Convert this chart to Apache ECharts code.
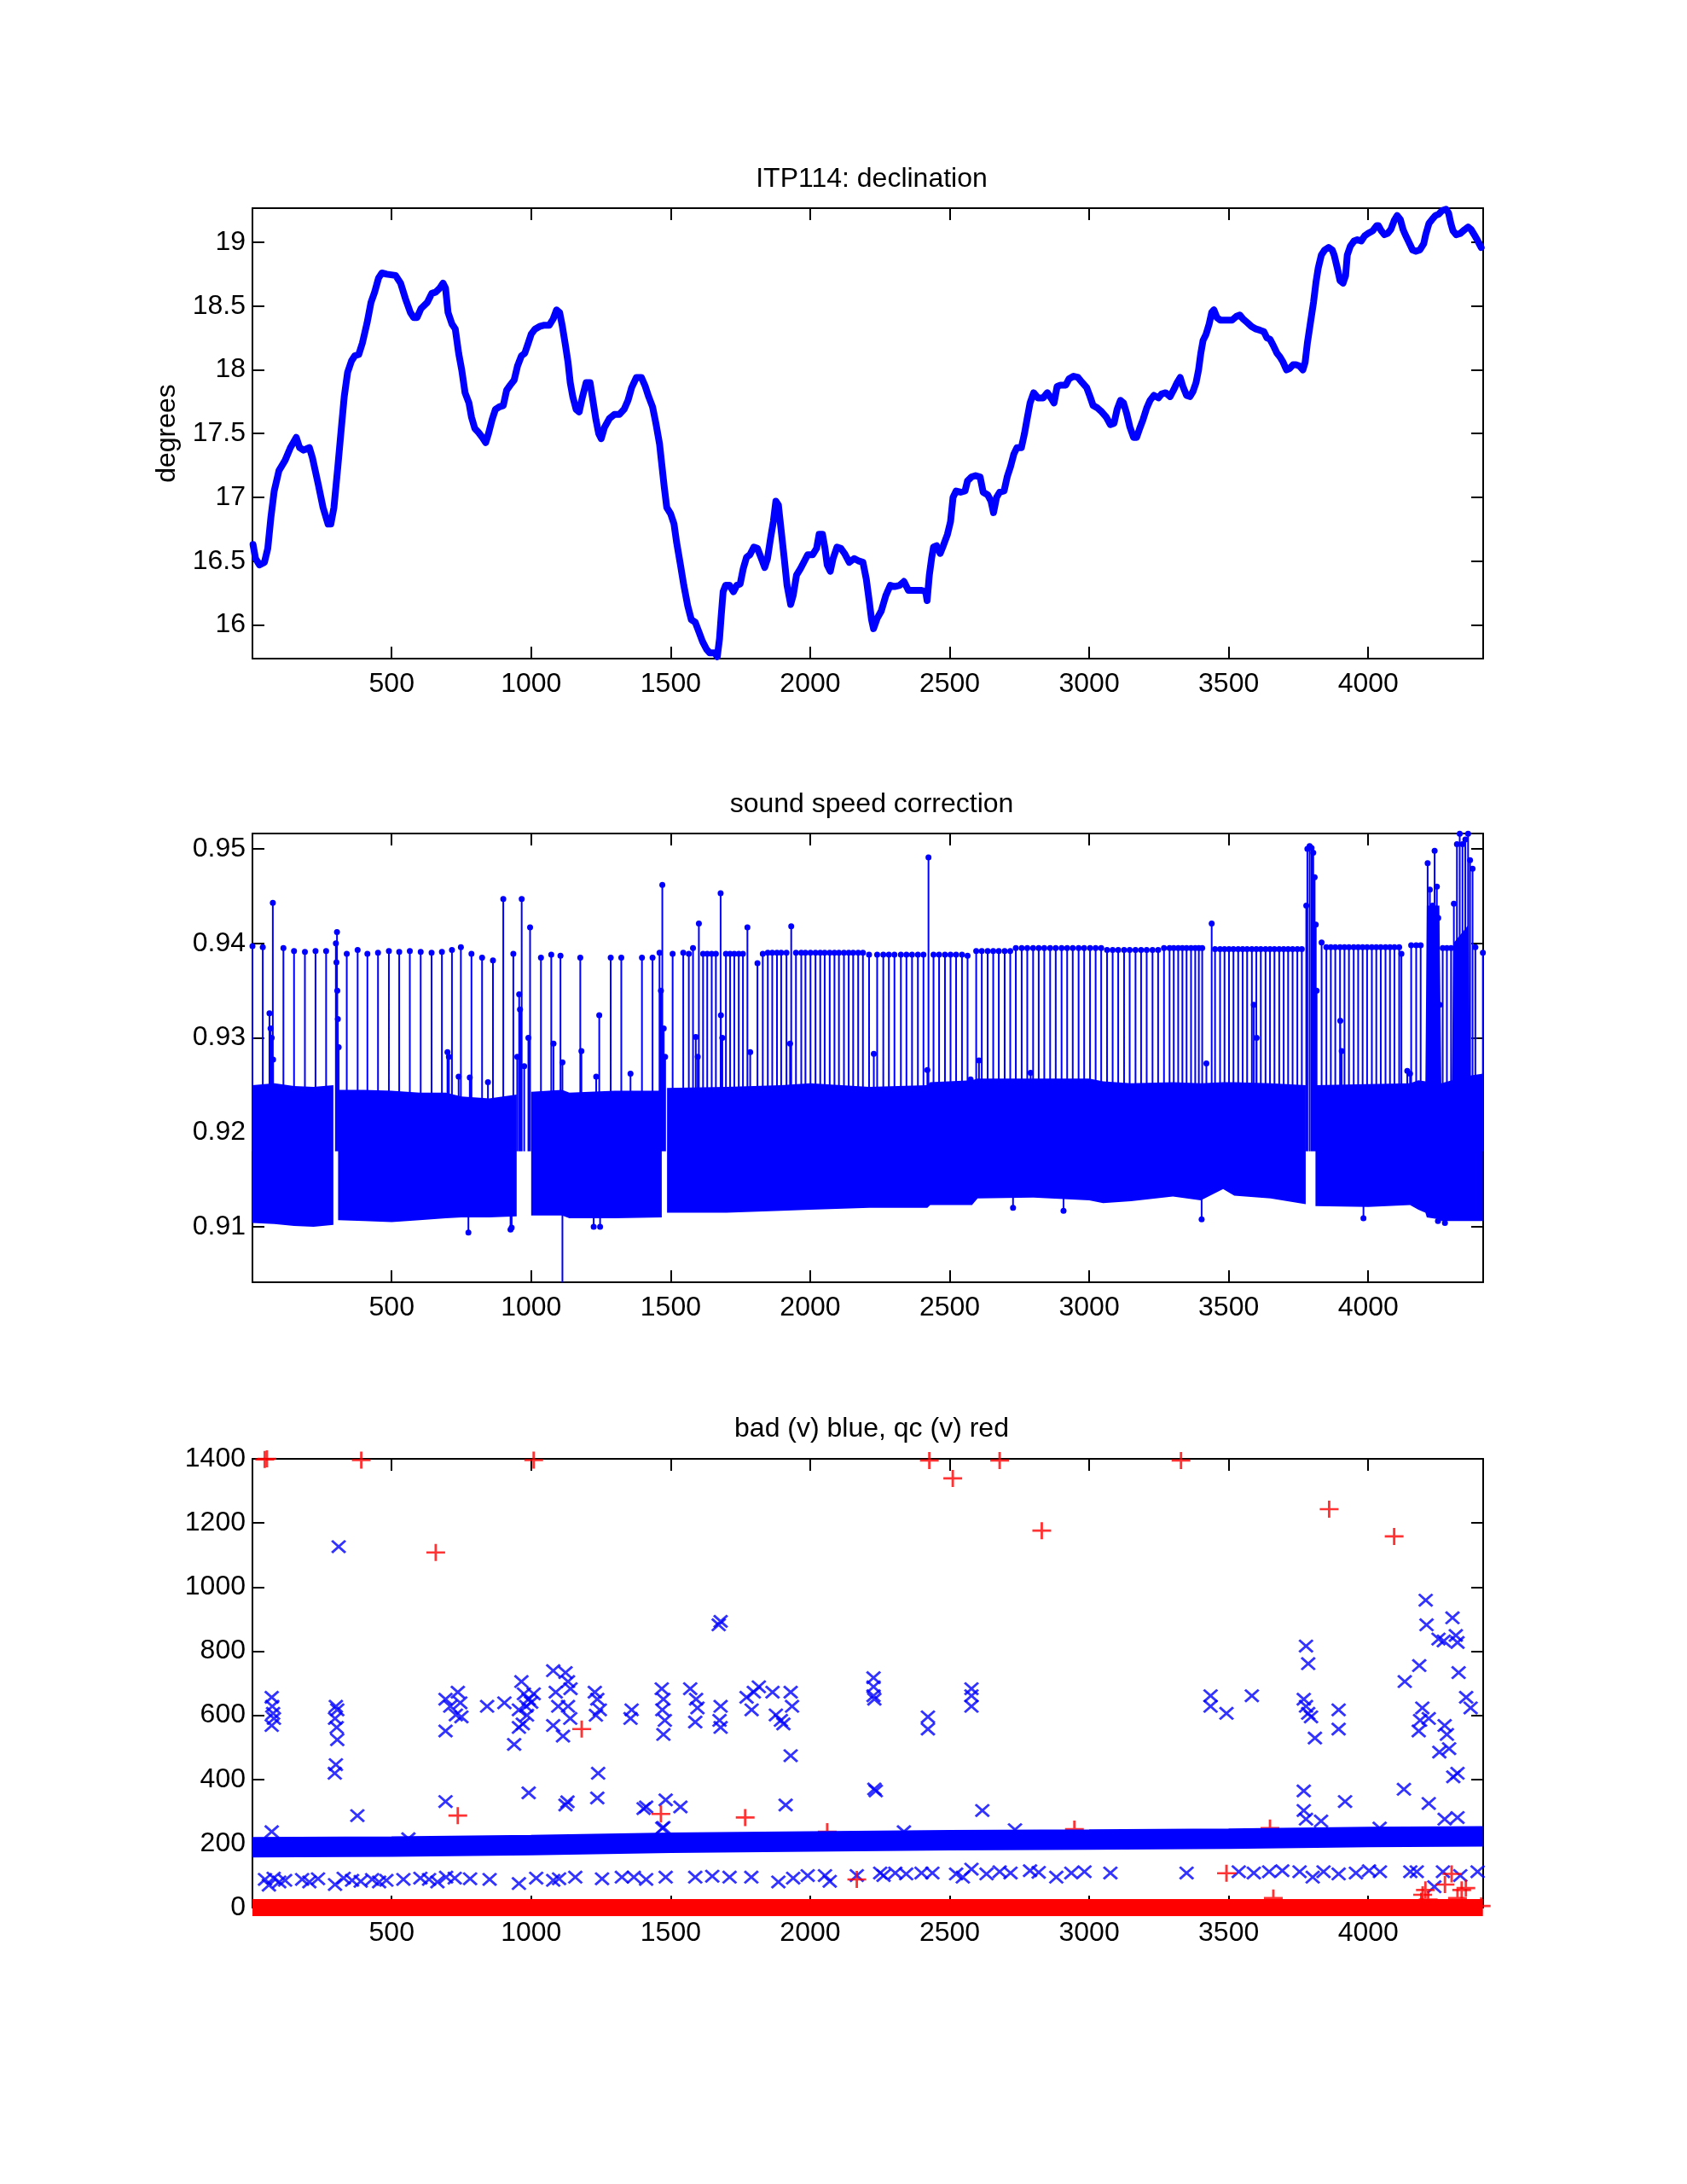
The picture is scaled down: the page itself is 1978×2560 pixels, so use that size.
<!DOCTYPE html>
<html>
<head>
<meta charset="utf-8">
<script src="https://cdn.jsdelivr.net/npm/echarts@6/dist/echarts.min.js"></script>
<style>
  html, body { margin: 0; background: #fff; }
  #chart { width: 1978px; height: 2560px; }
</style>
</head>
<body>
<div id="chart"></div>
<script>
// tick labels
const xTicks = [500, 1000, 1500, 2000, 2500, 3000, 3500, 4000]
const declTicks = [16, 16.5, 17, 17.5, 18, 18.5, 19]
const sscTicks = [0.91, 0.92, 0.93, 0.94, 0.95]
const badTicks = [0, 200, 400, 600, 800, 1000, 1200, 1400]

// panel 1: declination (profile, degrees)
const declination = [
  [3,16.63],[12,16.52],[26,16.47],[44,16.49],[56,16.60],[67,16.84],[79,17.05],[96,17.21],[118,17.29],
  [137,17.39],[158,17.47],[170,17.39],[184,17.37],[205,17.39],[216,17.31],[237,17.10],[254,16.92],
  [272,16.79],[282,16.79],[293,16.92],[307,17.24],[319,17.53],[330,17.79],[342,17.98],[356,18.07],
  [368,18.11],[382,18.12],[395,18.21],[412,18.37],[426,18.53],[439,18.61],[453,18.72],[465,18.76],
  [482,18.75],[514,18.74],[532,18.68],[549,18.56],[567,18.45],[579,18.41],[591,18.41],[605,18.48],
  [628,18.53],[644,18.60],[658,18.61],[672,18.64],[684,18.68],[693,18.64],[702,18.45],[716,18.36],
  [728,18.32],[740,18.13],[751,18.00],[763,17.82],[777,17.74],[786,17.63],[798,17.54],[811,17.51],
  [825,17.47],[837,17.43],[847,17.50],[860,17.61],[872,17.69],[886,17.71],[900,17.72],[912,17.84],
  [925,17.88],[939,17.92],[951,18.03],[965,18.11],[977,18.13],[988,18.20],[1000,18.28],[1014,18.32],
  [1030,18.34],[1047,18.35],[1065,18.35],[1079,18.40],[1091,18.47],[1102,18.45],[1111,18.35],
  [1123,18.19],[1132,18.06],[1140,17.90],[1149,17.79],[1161,17.69],[1172,17.67],[1184,17.79],
  [1197,17.90],[1211,17.90],[1219,17.79],[1232,17.61],[1242,17.50],[1251,17.46],[1263,17.55],
  [1281,17.62],[1298,17.65],[1316,17.65],[1333,17.69],[1347,17.76],[1360,17.86],[1377,17.94],
  [1395,17.94],[1409,17.87],[1421,17.79],[1435,17.71],[1447,17.58],[1460,17.42],[1468,17.26],
  [1477,17.08],[1486,16.92],[1500,16.87],[1512,16.79],[1521,16.65],[1535,16.47],[1547,16.31],
  [1561,16.15],[1574,16.04],[1588,16.02],[1602,15.94],[1614,15.87],[1628,15.81],[1640,15.78],
  [1658,15.78],[1667,15.75],[1675,15.89],[1681,16.07],[1688,16.26],[1697,16.31],[1711,16.31],
  [1725,16.26],[1737,16.31],[1749,16.32],[1760,16.44],[1772,16.53],[1784,16.55],[1798,16.61],
  [1811,16.60],[1825,16.52],[1837,16.45],[1847,16.52],[1858,16.68],[1868,16.81],[1877,16.97],
  [1886,16.94],[1895,16.76],[1907,16.52],[1917,16.31],[1930,16.16],[1939,16.23],[1951,16.39],
  [1965,16.44],[1977,16.49],[1991,16.55],[2009,16.55],[2023,16.60],[2032,16.71],[2044,16.71],
  [2053,16.60],[2061,16.47],[2072,16.42],[2082,16.52],[2096,16.61],[2110,16.60],[2123,16.56],
  [2140,16.49],[2158,16.52],[2175,16.50],[2189,16.49],[2201,16.36],[2212,16.18],[2220,16.04],
  [2227,15.97],[2240,16.05],[2255,16.11],[2271,16.23],[2287,16.31],[2302,16.30],[2321,16.31],
  [2336,16.34],[2352,16.27],[2375,16.27],[2399,16.27],[2414,16.26],[2419,16.19],[2427,16.39],
  [2435,16.52],[2442,16.61],[2453,16.62],[2466,16.56],[2477,16.62],[2492,16.71],[2503,16.81],
  [2512,17.00],[2523,17.05],[2539,17.04],[2555,17.05],[2564,17.13],[2578,17.16],[2593,17.17],
  [2609,17.16],[2620,17.04],[2636,17.02],[2648,16.97],[2657,16.88],[2668,17.00],[2679,17.04],
  [2695,17.05],[2706,17.16],[2718,17.24],[2730,17.34],[2741,17.39],[2757,17.39],[2768,17.50],
  [2777,17.61],[2788,17.74],[2801,17.82],[2816,17.78],[2835,17.78],[2850,17.82],[2863,17.78],
  [2874,17.74],[2885,17.87],[2897,17.88],[2916,17.88],[2928,17.93],[2944,17.95],[2960,17.94],
  [2975,17.90],[2991,17.86],[3003,17.79],[3014,17.72],[3030,17.70],[3045,17.67],[3061,17.63],
  [3076,17.57],[3089,17.58],[3100,17.69],[3112,17.76],[3123,17.74],[3134,17.66],[3146,17.55],
  [3159,17.47],[3170,17.47],[3181,17.54],[3193,17.61],[3206,17.70],[3218,17.76],[3232,17.80],
  [3248,17.78],[3259,17.81],[3274,17.82],[3290,17.79],[3302,17.84],[3315,17.90],[3326,17.94],
  [3336,17.87],[3349,17.80],[3361,17.79],[3372,17.83],[3383,17.90],[3392,18.00],[3400,18.13],
  [3408,18.23],[3419,18.28],[3430,18.36],[3439,18.45],[3447,18.47],[3458,18.41],[3470,18.39],
  [3489,18.39],[3512,18.39],[3528,18.42],[3540,18.43],[3551,18.40],[3567,18.37],[3582,18.34],
  [3598,18.32],[3613,18.31],[3626,18.30],[3637,18.25],[3648,18.24],[3660,18.19],[3673,18.13],
  [3684,18.10],[3695,18.06],[3707,18.00],[3718,18.01],[3731,18.04],[3741,18.04],[3754,18.03],
  [3766,18.00],[3774,18.06],[3782,18.21],[3793,18.37],[3804,18.53],[3813,18.69],[3821,18.80],
  [3832,18.90],[3844,18.94],[3858,18.96],[3871,18.94],[3878,18.90],[3889,18.80],[3899,18.70],
  [3910,18.68],[3919,18.74],[3925,18.90],[3936,18.97],[3949,19.01],[3961,19.02],[3975,19.01],
  [3987,19.05],[4000,19.07],[4016,19.09],[4030,19.13],[4037,19.13],[4047,19.09],[4058,19.06],
  [4070,19.07],[4081,19.10],[4093,19.17],[4104,19.21],[4115,19.18],[4125,19.10],[4135,19.05],
  [4146,19.00],[4159,18.94],[4171,18.93],[4185,18.94],[4199,18.99],[4206,19.06],[4218,19.15],
  [4229,19.18],[4241,19.21],[4252,19.22],[4265,19.25],[4279,19.26],[4288,19.23],[4296,19.15],
  [4304,19.09],[4315,19.06],[4330,19.07],[4346,19.10],[4358,19.12],[4369,19.10],[4380,19.06],
  [4393,19.01],[4405,18.96]
]

// panel 2: sound speed correction, dense band envelope [profile, low, high], null = gap
const sscBand = [
  [1,0.9104,0.9250],[80,0.9103,0.9252],[150,0.9101,0.9249],[220,0.9100,0.9248],[291,0.9102,0.9250],null,
  [308,0.9107,0.9245],[400,0.9106,0.9245],[500,0.9105,0.9244],[600,0.9107,0.9242],[694,0.9109,0.9242],
  [750,0.9110,0.9238],[850,0.9110,0.9236],[948,0.9111,0.9240],null,
  [1000,0.9112,0.9243],[1111,0.9112,0.9245],[1137,0.9109,0.9242],[1300,0.9109,0.9244],[1468,0.9110,0.9244],null,
  [1487,0.9115,0.9247],[1700,0.9115,0.9248],[1896,0.9117,0.9250],[2000,0.9118,0.9252],[2212,0.9120,0.9248],
  [2420,0.9120,0.9250],[2430,0.9123,0.9253],[2580,0.9123,0.9255],[2600,0.9130,0.9257],[2800,0.9131,0.9257],
  [3000,0.9128,0.9257],[3050,0.9125,0.9254],[3150,0.9127,0.9252],[3300,0.9132,0.9253],[3400,0.9128,0.9252],
  [3480,0.9140,0.9253],[3520,0.9133,0.9253],[3650,0.9130,0.9252],[3776,0.9124,0.9250],null,
  [3811,0.9122,0.9250],[4000,0.9121,0.9251],[4150,0.9123,0.9252],[4180,0.9118,0.9255],[4205,0.9115,0.9254],
  [4210,0.9110,0.9440],[4255,0.9108,0.9440],[4262,0.9106,0.9252],[4300,0.9106,0.9255],[4305,0.9106,0.9400],
  [4360,0.9106,0.9420],[4365,0.9106,0.9260],[4411,0.9106,0.9262]
]
const sscBase = 0.918
// excursions out of the band [profile, value]
const sscSpikes = [
  [1,0.9397],[38,0.9396],[74,0.9443],[112,0.9395],[150,0.9392],[189,0.9391],[227,0.9392],[265,0.9392],
  [304,0.9412],[339,0.9389],[378,0.9393],[413,0.9389],[451,0.9390],[490,0.9392],[527,0.9391],[565,0.9392],
  [604,0.9391],[643,0.9390],[680,0.9391],[716,0.9393],[748,0.9396],[786,0.9389],[824,0.9385],[863,0.9382],
  [900,0.9447],[936,0.9389],[966,0.9447],[996,0.9417],[1035,0.9385],[1072,0.9388],[1105,0.9387],
  [1176,0.9385],[1244,0.9324],[1285,0.9385],[1323,0.9385],[1397,0.9385],[1435,0.9385],[1470,0.9462],
  [1507,0.9389],[1545,0.9390],[1565,0.9389],[1580,0.9395],[1601,0.9421],[1616,0.9389],[1631,0.9389],
  [1647,0.9389],[1662,0.9389],[1679,0.9453],[1698,0.9389],[1713,0.9389],[1728,0.9389],[1744,0.9389],
  [1759,0.9389],[1775,0.9417],[1811,0.9379],[1830,0.9389],[1848,0.9390],[1864,0.9390],[1881,0.9390],
  [1896,0.9390],[1915,0.9390],[1932,0.9418],[1949,0.9390],[1968,0.9390],[1983,0.9390],[2001,0.9390],
  [2019,0.9390],[2036,0.9390],[2052,0.9390],[2070,0.9390],[2087,0.9390],[2103,0.9390],[2121,0.9390],
  [2138,0.9390],[2154,0.9390],[2172,0.9390],[2189,0.9390],
  [2211,0.9388],[2240,0.9388],[2262,0.9388],[2282,0.9388],[2302,0.9388],[2325,0.9388],[2345,0.9388],
  [2365,0.9388],[2386,0.9388],[2406,0.9388],[2424,0.9491],[2442,0.9388],[2462,0.9388],[2483,0.9388],
  [2503,0.9388],[2523,0.9388],[2544,0.9388],[2564,0.9387],[2595,0.9392],[2615,0.9392],[2636,0.9392],
  [2656,0.9392],[2676,0.9392],[2697,0.9392],[2717,0.9392],[2737,0.9395],[2758,0.9395],[2778,0.9395],
  [2799,0.9395],[2819,0.9395],[2839,0.9395],[2860,0.9395],[2880,0.9395],[2901,0.9395],[2921,0.9395],
  [2941,0.9395],[2962,0.9395],[2982,0.9395],[3003,0.9395],[3023,0.9395],[3043,0.9395],[3064,0.9393],
  [3084,0.9393],[3104,0.9393],[3125,0.9393],[3145,0.9393],[3166,0.9393],[3186,0.9393],[3206,0.9393],
  [3227,0.9393],[3247,0.9393],[3268,0.9395],
  [3288,0.9395],[3303,0.9395],[3319,0.9395],[3334,0.9395],[3349,0.9395],[3365,0.9395],[3380,0.9395],
  [3393,0.9395],[3405,0.9395],[3439,0.9421],[3451,0.9394],[3469,0.9394],[3485,0.9394],[3501,0.9394],
  [3517,0.9394],[3534,0.9394],[3550,0.9394],[3566,0.9394],[3583,0.9394],[3599,0.9394],[3615,0.9394],
  [3632,0.9394],[3648,0.9394],[3664,0.9394],[3681,0.9394],[3697,0.9394],[3713,0.9394],[3729,0.9394],
  [3746,0.9394],[3762,0.9394],
  [3778,0.9440],[3782,0.9500],[3790,0.9503],[3797,0.9501],[3803,0.9496],[3808,0.9470],[3812,0.9420],
  [3815,0.9350],[3833,0.9401],[3850,0.9396],[3866,0.9396],[3882,0.9396],[3899,0.9396],[3915,0.9396],
  [3931,0.9396],[3948,0.9396],[3964,0.9396],[3980,0.9396],[3996,0.9396],[4013,0.9396],[4029,0.9396],
  [4045,0.9396],[4062,0.9396],[4078,0.9396],[4094,0.9396],[4111,0.9396],[4119,0.9389],
  [4154,0.9398],[4172,0.9398],[4188,0.9398],[4213,0.9485],[4221,0.9457],[4231,0.9440],[4238,0.9498],
  [4246,0.9460],[4251,0.9427],[4256,0.9335],[4267,0.9395],[4282,0.9395],[4297,0.9395],[4307,0.9442],
  [4318,0.9505],[4328,0.9516],[4338,0.9505],[4348,0.9510],[4358,0.9516],[4365,0.9488],[4374,0.9479],
  [4384,0.9396],[4411,0.9390],
  // short excursions just above the band
  [62,0.9326],[66,0.9310],[70,0.9300],[75,0.9277],[300,0.9400],[302,0.9380],[305,0.9350],[307,0.9320],
  [310,0.9290],[700,0.9285],[705,0.9280],[740,0.9259],[780,0.9258],[845,0.9253],[950,0.9280],
  [957,0.9346],[960,0.9330],[975,0.9270],[990,0.9300],[1080,0.9294],[1112,0.9274],[1180,0.9286],
  [1233,0.9259],[1356,0.9262],[1460,0.9390],[1465,0.9350],[1475,0.9310],[1480,0.9280],[1590,0.9301],
  [1597,0.9280],[1680,0.9324],[1685,0.9300],[1785,0.9285],[1928,0.9294],[2228,0.9283],[2420,0.9266],
  [2575,0.9256],[2605,0.9276],[2790,0.9263],[3420,0.9273],[3590,0.9335],[3600,0.9300],[3900,0.9318],
  [3905,0.9286],[4140,0.9265],[4150,0.9262],
  // excursions below the band
  [775,0.9094],[926,0.9097],[930,0.9099],[1112,0.9041],[1224,0.9100],[1247,0.9100],[2727,0.9120],
  [2908,0.9117],[3403,0.9108],[3983,0.9109],[4250,0.9106],[4275,0.9104]
]

// panel 3: bad (v) blue, qc (v) red
const badBand = [[1,188],[500,190],[1000,195],[1500,202],[2000,206],[2500,210],[3000,212],[3500,215],[4000,220],[4411,222]]
const badBlue = [
  [70,656],[72,628],[75,606],[78,590],[70,568],[70,237],
  [310,1126],[300,628],[305,617],[297,590],[303,562],[305,524],[300,446],[296,419],[377,287],
  [693,551],[693,650],[710,628],[737,672],[746,639],[750,595],[730,601],[693,331],[842,628],
  [904,639],[939,509],[956,617],[965,705],[974,667],[982,628],[991,650],[956,562],[970,573],[991,358],
  [1009,667],[1000,640],[985,600],
  [1079,739],[1088,672],[1097,628],[1079,568],[1114,535],[1123,733],[1132,705],[1141,683],[1132,628],
  [1140,590],[1123,320],[1130,330],
  [1228,672],[1237,650],[1246,617],[1240,419],[1237,342],[1232,600],[1360,617],[1356,590],
  [1403,309],[1412,314],
  [1468,683],[1474,650],[1470,617],[1479,584],[1474,540],[1482,336],[1470,248],[1535,314],
  [1570,683],[1591,650],[1596,623],[1588,579],
  [1679,893],[1672,882],[1679,628],[1675,584],[1679,562],
  [1772,656],[1790,617],[1816,689],[1798,672],
  [1865,672],[1877,601],[1895,584],[1904,573],[1930,672],[1935,628],[1930,474],[1912,320],
  [2227,717],[2227,689],[2227,661],[2230,650],[2235,364],[2230,370],
  [2422,595],[2422,557],[2578,683],[2578,661],[2578,628],[2617,303],
  [3435,661],[3435,628],[3492,606],[3583,661],
  [3777,816],[3785,761],[3769,650],[3777,628],[3785,606],[3795,595],[3809,529],[3769,364],[3769,303],[3777,276],
  [3894,617],[3894,557],[3917,331],[4131,705],[4128,369],
  [4206,959],[4209,882],[4183,755],[4194,623],[4186,584],[4217,590],[4181,551],[4217,325],
  [4252,838],[4271,832],[4255,485],
  [4302,904],[4314,849],[4320,827],[4324,733],[4274,568],[4282,540],[4290,496],[4305,408],[4320,419],
  [4351,656],[4367,623],
  [3831,270],[4041,248],[4274,276],[4320,281],[2734,243],[2336,237],[1474,250],[560,215]
]
const badLowRow = [
  [46,88],[60,70],[77,92],[97,80],[118,85],[179,88],[205,80],[236,90],[297,72],[328,92],[358,85],
  [389,82],[430,88],[455,80],[481,85],[542,88],[603,92],[634,88],[664,80],[695,95],[726,92],[781,90],
  [851,88],[956,75],[1018,92],[1079,85],[1100,90],[1158,95],[1254,90],[1325,95],[1368,95],[1412,88],
  [1482,95],[1588,95],[1649,98],[1711,95],[1789,95],[1886,80],[1939,92],[1991,100],[2053,100],
  [2070,82],[2167,100],[2263,100],[2251,108],[2305,108],[2344,105],[2399,108],[2438,108],[2523,105],
  [2547,95],[2578,120],[2632,105],[2679,112],[2718,108],[2788,115],[2819,110],[2882,95],[2936,108],
  [2983,112],[3076,108],[3349,108],[3536,112],[3590,108],[3645,112],[3692,115],[3754,112],[3801,95],
  [3840,112],[3894,105],[3956,108],[4003,115],[4042,112],[4151,112],[4174,112],[4237,65],[4268,112],
  [4330,100],[4392,112]
]
const qcBand = [[1,0],[4411,0]]
const qcRed = [
  [45,1398],[53,1400],[391,1396],[1009,1396],[658,1108],[737,287],[1181,557],[1465,292],[1767,281],
  [2061,237],[2167,88],[2427,1395],[2511,1339],[2679,1395],[2830,1176],[3329,1395],[3860,1243],
  [4093,1158],[2947,245],[3648,248],[3492,107],[3660,30],[4190,20],[4195,40],[4205,55],[4215,25],
  [4275,72],[4299,105],[4320,30],[4335,55],[4350,61],[4405,5]
]

const FONT = 'Liberation Sans, Arial, Helvetica, sans-serif'
const FS = 32
const BLUE = '#0000ff'
const RED = '#ff0000'
const plusPath = 'path://M-1.3,-10L1.3,-10L1.3,-1.3L10,-1.3L10,1.3L1.3,1.3L1.3,10L-1.3,10L-1.3,1.3L-10,1.3L-10,-1.3L-1.3,-1.3Z'
const crossPath = 'path://M-10,-7.6L-7.6,-10L10,7.6L7.6,10Z M7.6,-10L10,-7.6L-7.6,10L-10,7.6Z'

const grids = [
  { left: 296, width: 1443, top: 244, height: 528 },
  { left: 296, width: 1443, top: 977, height: 526 },
  { left: 296, width: 1443, top: 1710, height: 526 },
]
const yRanges = [[15.735, 19.268, declTicks], [0.90413, 0.95163, sscTicks], [0, 1400, badTicks]]

const lineStyle = { color: '#000', width: 2 }
const plain = v => String(v)
function xAxisFor(i, top) {
  return {
    type: 'value', gridIndex: i, min: 1, max: 4412, position: top ? 'top' : 'bottom',
    axisLine: { onZero: false, lineStyle },
    axisTick: { inside: true, length: 14, lineStyle, customValues: xTicks },
    axisLabel: { show: !top, customValues: xTicks, formatter: plain, margin: 14, color: '#000', fontSize: FS, fontFamily: FONT },
    splitLine: { show: false },
  }
}
function yAxisFor(i, right) {
  const [mn, mx, ticks] = yRanges[i]
  return {
    type: 'value', gridIndex: i, min: mn, max: mx, position: right ? 'right' : 'left',
    name: (i === 0 && !right) ? 'degrees' : '',
    nameLocation: 'middle', nameGap: 84,
    nameTextStyle: { color: '#000', fontSize: FS, fontFamily: FONT },
    axisLine: { onZero: false, lineStyle },
    axisTick: { inside: true, length: 14, lineStyle, customValues: ticks },
    axisLabel: { show: !right, customValues: ticks, formatter: plain, margin: 8, color: '#000', fontSize: FS, fontFamily: FONT },
    splitLine: { show: false },
  }
}

const sscLine = []
sscSpikes.forEach(([x, v]) => { sscLine.push([x, sscBase], [x, v], [x, null]) })

const titleStyle = { color: '#000', fontSize: FS, fontWeight: 'normal', fontFamily: FONT }

const option = {
  animation: false,
  backgroundColor: '#fff',
  title: [
    { text: 'ITP114: declination', left: 1017, top: 189, textAlign: 'center', textStyle: titleStyle },
    { text: 'sound speed correction', left: 1017, top: 922, textAlign: 'center', textStyle: titleStyle },
    { text: 'bad (v) blue, qc (v) red', left: 1017, top: 1654, textAlign: 'center', textStyle: titleStyle },
  ],
  grid: grids,
  xAxis: [xAxisFor(0), xAxisFor(1), xAxisFor(2), xAxisFor(0, true), xAxisFor(1, true), xAxisFor(2, true)],
  yAxis: [yAxisFor(0), yAxisFor(1), yAxisFor(2), yAxisFor(0, true), yAxisFor(1, true), yAxisFor(2, true)],
  series: [
    {
      type: 'line', xAxisIndex: 0, yAxisIndex: 0, data: declination,
      showSymbol: false, lineStyle: { color: BLUE, width: 8, cap: 'round', join: 'round' },
    },
    {
      type: 'custom', xAxisIndex: 1, yAxisIndex: 1, data: [[1, 0.92]], silent: true,
      renderItem: function (params, api) {
        const children = []
        let seg = []
        const flush = function () {
          if (seg.length > 1) {
            const top = seg.map(p => api.coord([p[0], p[2]]))
            const bottom = seg.slice().reverse().map(p => api.coord([p[0], p[1]]))
            children.push({ type: 'polygon', shape: { points: top.concat(bottom) }, style: { fill: BLUE } })
          }
          seg = []
        }
        sscBand.forEach(p => { if (p) seg.push(p); else flush() })
        flush()
        return { type: 'group', children: children }
      },
    },
    {
      type: 'line', xAxisIndex: 1, yAxisIndex: 1, data: sscLine, connectNulls: false,
      symbol: 'circle', showSymbol: true,
      symbolSize: v => (v[1] === sscBase ? 0 : 7),
      itemStyle: { color: BLUE }, lineStyle: { color: BLUE, width: 2 },
    },
    {
      type: 'line', xAxisIndex: 2, yAxisIndex: 2, data: badBand, showSymbol: false,
      lineStyle: { color: BLUE, width: 24 },
    },
    {
      type: 'scatter', xAxisIndex: 2, yAxisIndex: 2, data: badLowRow.concat(badBlue),
      symbol: crossPath, symbolSize: [18, 16], itemStyle: { color: BLUE },
    },
    {
      type: 'line', xAxisIndex: 2, yAxisIndex: 2, data: qcBand, showSymbol: false, clip: false,
      lineStyle: { color: RED, width: 20 },
    },
    {
      type: 'scatter', xAxisIndex: 2, yAxisIndex: 2, data: qcRed,
      symbol: plusPath, symbolSize: [22, 20], itemStyle: { color: RED },
    },
  ],
}

const myChart = echarts.init(document.getElementById('chart'))
myChart.setOption(option)
</script>
</body>
</html>
